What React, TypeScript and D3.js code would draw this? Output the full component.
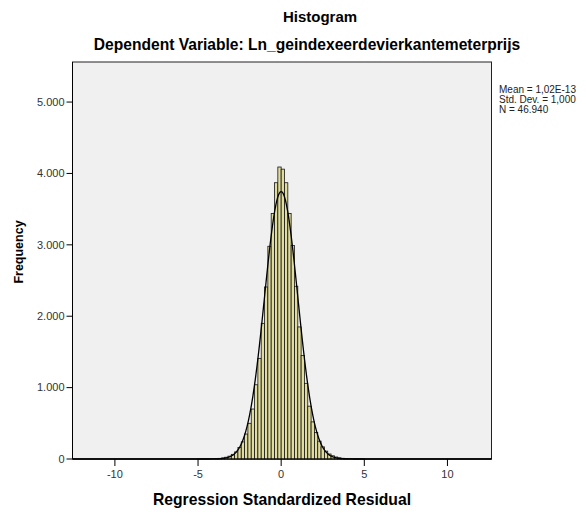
import * as d3 from "d3";

// histogram of regression standardized residuals, bin width 0.2, first bin starts at -5.0
const binStart = -5.0;
const binWidth = 0.2;
const binCounts = [
  // -5.0 .. -4.2
  1, 1, 2, 2, 3,
  // -4.0 .. -0.2
  5, 9, 15, 25, 40, 65, 100, 160, 240, 350,
  500, 700, 1040, 1410, 1900, 2410, 2980, 3440, 3870, 4090,
  // 0.0 .. 3.8
  4060, 3870, 3440, 2990, 2420, 1850, 1450, 1060, 740, 520,
  370, 250, 170, 110, 70, 45, 28, 17, 10, 6,
  // 4.0 .. 4.8
  4, 3, 2, 2, 1,
];

const yTicks = [0, 1000, 2000, 3000, 4000, 5000];
const yTickLabels = ["0", "1.000", "2.000", "3.000", "4.000", "5.000"];
const xTicks = [-10, -5, 0, 5, 10];

const statLines = ["Mean = 1,02E-13", "Std. Dev. = 1,000", "N = 46.940"];
const statMean = 0;
const statSd = 1;
const statN = 46940;

const font = "'Liberation Sans', Arial, sans-serif";

export default function App() {
  const W = 586, H = 513;
  const margin = { left: 72.5, right: 491.5, top: 62, bottom: 459 };

  const x = d3.scaleLinear().domain([-12.55, 12.65]).range([margin.left, margin.right]);
  const y = d3.scaleLinear().domain([0, 5561]).range([margin.bottom, margin.top]);

  // fitted normal curve from the reported mean / sd / N
  const pdf = (v: number) =>
    (statN * binWidth) / (statSd * Math.sqrt(2 * Math.PI)) *
    Math.exp(-((v - statMean) ** 2) / (2 * statSd * statSd));
  const curvePts = d3.range(-12.55, 12.66, 0.02).map(v => [v, pdf(v)] as [number, number]);
  const line = d3.line<[number, number]>().x(d => x(d[0])).y(d => y(d[1]));

  return (
    <svg width={W} height={H} style={{ position: "absolute", left: 0, top: 0, background: "#fff" }}
      fontFamily={font}>
      <text x={320} y={22} textAnchor="middle" fontSize={15} fontWeight="bold">Histogram</text>
      <text x={307} y={50} textAnchor="middle" fontSize={15.6} fontWeight="bold">
        Dependent Variable: Ln_geindexeerdevierkantemeterprijs
      </text>

      {/* plot area */}
      <rect x={margin.left} y={margin.top} width={margin.right - margin.left}
        height={margin.bottom - margin.top} fill="#f0f0f0" stroke="#222" strokeWidth={1} />

      {/* bars */}
      <g>
        {binCounts.map((c, i) => {
          const x0 = x(binStart + i * binWidth);
          const x1 = x(binStart + (i + 1) * binWidth);
          return (
            <rect key={i} x={x0} y={y(c)} width={x1 - x0} height={margin.bottom - y(c)}
              fill="#e0dc9e" stroke="#141414" strokeWidth={0.8} />
          );
        })}
      </g>

      {/* normal curve */}
      <path d={line(curvePts) ?? ""} fill="none" stroke="#000" strokeWidth={1.3} />

      {/* axes */}
      <line x1={margin.left} x2={margin.left} y1={margin.top} y2={margin.bottom} stroke="#000" />
      <line x1={margin.left} x2={margin.right} y1={margin.bottom} y2={margin.bottom} stroke="#000" />
      {yTicks.map((t, i) => (
        <g key={t}>
          <line x1={margin.left - 6} x2={margin.left} y1={y(t)} y2={y(t)} stroke="#000" />
          <text x={margin.left - 8} y={y(t)} dy="0.35em" textAnchor="end" fontSize={11} fill="#333">
            {yTickLabels[i]}
          </text>
        </g>
      ))}
      {xTicks.map(t => (
        <g key={t}>
          <line x1={x(t)} x2={x(t)} y1={margin.bottom} y2={margin.bottom + 7} stroke="#000" />
          <text x={x(t)} y={478} textAnchor="middle" fontSize={11} fill="#333">{t}</text>
        </g>
      ))}

      <text transform="translate(23,252) rotate(-90)"
        textAnchor="middle" fontSize={12.5} fontWeight="bold">Frequency</text>
      <text x={282} y={505} textAnchor="middle" fontSize={15.7} fontWeight="bold">
        Regression Standardized Residual
      </text>

      {statLines.map((s, i) => (
        <text key={s} x={499} y={93 + i * 10} fontSize={10} fill="#222">{s}</text>
      ))}
    </svg>
  );
}
